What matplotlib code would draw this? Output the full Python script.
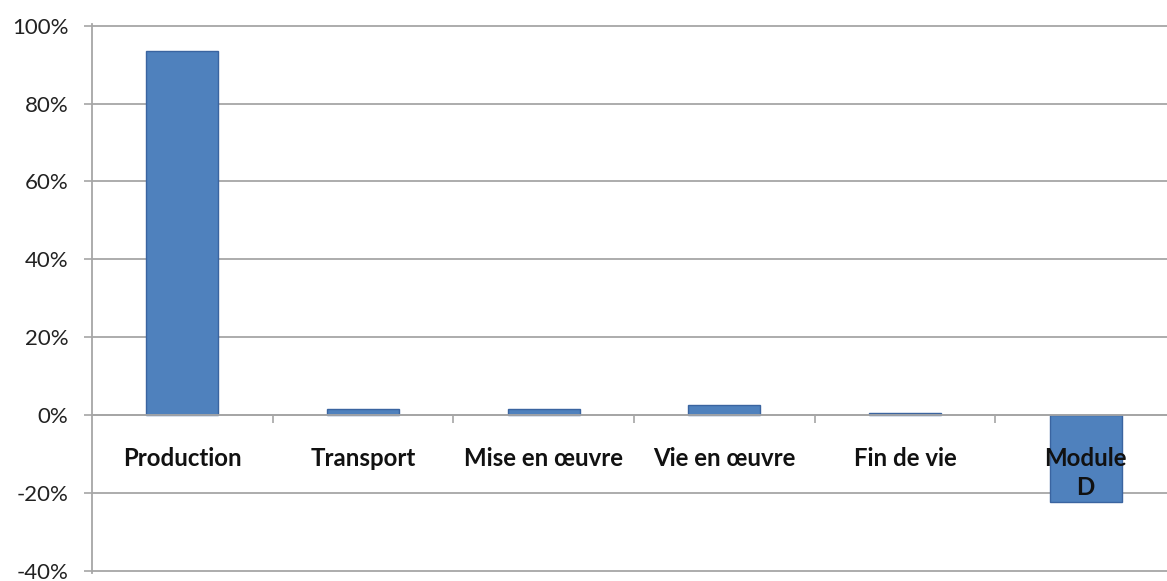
import matplotlib.pyplot as plt
from matplotlib.ticker import FuncFormatter, MultipleLocator

categories = ['Production', 'Transport', 'Mise en œuvre', 'Vie en œuvre', 'Fin de vie', 'Module\nD']
values = [93.5, 1.7, 1.7, 2.7, 0.5, -22.2]

plt.rcParams['font.family'] = ['Lato', 'DejaVu Sans']

fig = plt.figure(figsize=(11.67, 5.81), dpi=100)
# l'axe dépasse un peu à droite, comme dans l'image d'origine
ax = fig.add_axes([92 / 1167, 8 / 581, 1084 / 1167, 549.3 / 581])

# spines d'abord : set_position remet les ticks à zéro
for side in ['top', 'right']:
    ax.spines[side].set_visible(False)
ax.spines['bottom'].set_position(('data', 0))
ax.spines['bottom'].set_color('#A6A6A6')
ax.spines['bottom'].set_linewidth(1.3)
ax.spines['left'].set_color('#A6A6A6')
ax.spines['left'].set_linewidth(1.3)

x = list(range(len(categories)))
ax.bar(x, values, width=0.4, color='#4F81BD', edgecolor='#3A64A0', linewidth=1, zorder=1)

ax.set_xlim(-0.5, len(categories) - 0.5)
ax.set_ylim(-40.5, 100.5)

ax.yaxis.set_major_locator(MultipleLocator(20))
ax.yaxis.set_major_formatter(FuncFormatter(lambda v, _: f'{v:.0f}%'))
ax.yaxis.grid(True, color='#A6A6A6', linewidth=1.3)
ax.set_axisbelow(True)
ax.xaxis.set_zorder(3)

ax.tick_params(axis='x', which='major', length=0, pad=23)
ax.tick_params(axis='x', which='minor', length=6, width=1.2, color='#A6A6A6', direction='out')
ax.tick_params(axis='y', length=6, width=1.2, color='#A6A6A6', pad=11, labelsize=16, labelcolor='#222222')

ax.set_xticks([i + 0.5 for i in range(len(categories) - 1)], minor=True)
ax.set_xticks(x)
ax.set_xticklabels(categories, fontweight='bold', fontsize=17.3, color='#111111', linespacing=1.3)

fig.savefig('out.png', dpi=100)
